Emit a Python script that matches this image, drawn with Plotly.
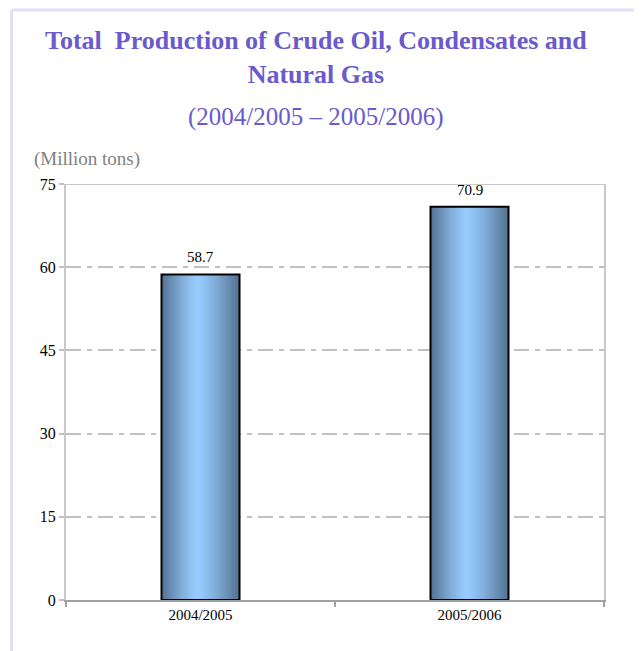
import plotly.graph_objects as go

categories = ["2004/2005", "2005/2006"]
values = [58.7, 70.9]
value_labels = ["58.7", "70.9"]
y_ticks = [0, 15, 30, 45, 60, 75]

W = 0.29          # bar width (category units)
PEAK = 0.46       # position of the highlight across the bar
N = 30
dark = (84, 114, 145)
light = (153, 204, 255)

SERIF = "Liberation Serif, Times New Roman, serif"

fig = go.Figure()

for i in range(N):
    f = 1 - i / N
    t = f ** 1.3
    c = tuple(int(round(light[k] + (dark[k] - light[k]) * t)) for k in range(3))
    w = f * W
    left = -W / 2 + PEAK * W - f * PEAK * W
    fig.add_trace(go.Bar(
        x=categories, y=values, width=w, offset=left,
        marker=dict(color="rgb(%d,%d,%d)" % c, line=dict(width=0)),
        hoverinfo="skip", showlegend=False,
    ))

fig.add_trace(go.Bar(
    x=categories, y=values, width=W, offset=-W / 2,
    marker=dict(color="rgba(0,0,0,0)", line=dict(color="black", width=2)),
    showlegend=False,
))

label_annotations = [
    dict(text=lab, x=cat, y=val, xref="x", yref="y", xanchor="center", yanchor="bottom",
         yshift=7, showarrow=False, font=dict(family=SERIF, size=15, color="black"))
    for cat, val, lab in zip(categories, values, value_labels)
]

fig.update_layout(
    width=634, height=643,
    margin=dict(l=58, r=38, t=176, b=51),
    paper_bgcolor="white", plot_bgcolor="white",
    barmode="overlay",
    font=dict(family=SERIF, color="black"),
    xaxis=dict(
        range=[-0.5, 1.5], showgrid=False,
        showline=True, linecolor="#a0a0a0", linewidth=2,
        ticks="outside", tickson="boundaries", ticklen=5, tickcolor="#a0a0a0", tickwidth=2,
        tickfont=dict(family=SERIF, size=15, color="black"),
    ),
    yaxis=dict(
        range=[0, 75], tickvals=y_ticks, ticktext=[str(v) for v in y_ticks],
        showgrid=True, gridcolor="#c0c0c0", gridwidth=2, griddash="15px,6px,5px,6px",
        showline=True, linecolor="#c8c8c8", linewidth=2, mirror=True,
        ticks="outside", ticklen=5, tickcolor="#c0c0c0", tickwidth=2,
        tickfont=dict(family=SERIF, size=16, color="black"),
        zeroline=False,
    ),
    shapes=[
        dict(type="line", xref="paper", yref="y", x0=0, x1=1, y0=75, y1=75,
             line=dict(color="#c8c8c8", width=2)),
        dict(type="line", xref="paper", yref="paper", x0=-0.1013, x1=-0.1013, y0=1.418, y1=-0.15,
             line=dict(color="#e0e0f6", width=3)),
        dict(type="line", xref="paper", yref="paper", x0=-0.1013, x1=1.08, y0=1.418, y1=1.418,
             line=dict(color="#e0e0f6", width=3)),
    ],
    annotations=label_annotations + [
        dict(text="<b>Total  Production of Crude Oil, Condensates and<br>Natural Gas</b>",
             xref="paper", yref="paper", x=0.465, y=1.305, xanchor="center", yanchor="middle",
             showarrow=False, font=dict(family=SERIF, size=26, color="#6A5ACD")),
        dict(text="(2004/2005 \u2013 2005/2006)",
             xref="paper", yref="paper", x=0.465, y=1.16, xanchor="center", yanchor="middle",
             showarrow=False, font=dict(family=SERIF, size=25, color="#6A5ACD")),
        dict(text="(Million tons)",
             xref="paper", yref="paper", x=-0.0632, y=1.061, xanchor="left", yanchor="middle",
             showarrow=False, font=dict(family=SERIF, size=19, color="#808080")),
    ],
)

fig.write_html("out.html")
